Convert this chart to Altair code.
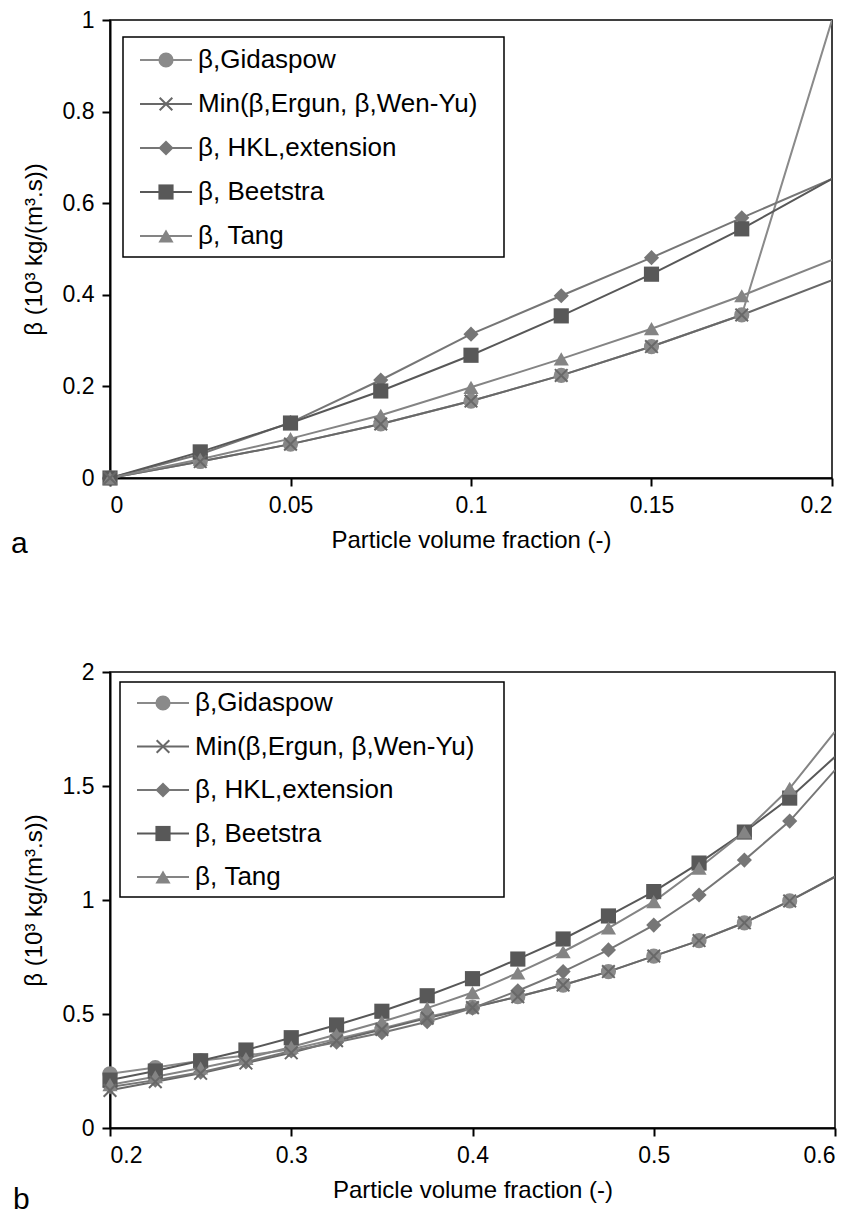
import altair as alt
import pandas as pd

# Drag-coefficient models compared over the particle volume fraction
SERIES = ["β,Gidaspow", "Min(β,Ergun, β,Wen-Yu)", "β, HKL,extension", "β, Beetstra", "β, Tang"]
COLORS = ["#8a8a8a", "#686868", "#767676", "#585858", "#848484"]
XPATH = "M-1,-1L1,1M-1,1L1,-1"
SHAPES = ["circle", XPATH, "diamond", "square", "triangle-up"]

# (a) dilute range
PHI_A = [0, 0.025, 0.05, 0.075, 0.1, 0.125, 0.15, 0.175, 0.2]
GIDASPOW_A = [0, 0.036, 0.074, 0.118, 0.168, 0.224, 0.287, 0.356, 1.0]
MIN_ERGUN_WENYU_A = [0, 0.036, 0.074, 0.118, 0.168, 0.224, 0.287, 0.356, 0.432]
HKL_A = [0, 0.052, 0.121, 0.214, 0.314, 0.398, 0.481, 0.568, 0.653]
BEETSTRA_A = [0, 0.057, 0.120, 0.190, 0.268, 0.354, 0.445, 0.544, 0.653]
TANG_A = [0, 0.041, 0.086, 0.137, 0.198, 0.260, 0.326, 0.398, 0.476]

# (b) dense range
PHI_B = [0.2, 0.225, 0.25, 0.275, 0.3, 0.325, 0.35, 0.375, 0.4,
         0.425, 0.45, 0.475, 0.5, 0.525, 0.55, 0.575, 0.6]
GIDASPOW_B = [0.238, 0.265, 0.295, 0.318, 0.345, 0.390, 0.437, 0.487, 0.530,
              0.576, 0.627, 0.686, 0.754, 0.822, 0.900, 0.996, 1.102]
MIN_ERGUN_WENYU_B = [0.165, 0.203, 0.240, 0.285, 0.330, 0.383, 0.432, 0.482, 0.528,
                     0.576, 0.627, 0.686, 0.754, 0.822, 0.900, 0.996, 1.102]
HKL_B = [0.180, 0.210, 0.245, 0.290, 0.338, 0.376, 0.418, 0.466, 0.526,
         0.602, 0.686, 0.781, 0.890, 1.022, 1.175, 1.346, 1.570]
BEETSTRA_B = [0.210, 0.250, 0.295, 0.342, 0.396, 0.452, 0.512, 0.580, 0.655,
              0.741, 0.829, 0.930, 1.037, 1.162, 1.298, 1.447, 1.628]
TANG_B = [0.190, 0.225, 0.263, 0.305, 0.355, 0.410, 0.466, 0.526, 0.594,
          0.680, 0.773, 0.877, 0.993, 1.140, 1.298, 1.490, 1.738]

FONT = "Liberation Sans"
MARK_SIZE = 230
X_SIZE = 160


def long_table(phi, columns):
    rows = []
    for name, vals in zip(SERIES, columns):
        for p, v in zip(phi, vals):
            rows.append({"phi": p, "beta": v, "series": name})
    return pd.DataFrame(rows)


def panel(df, xdom, ydom, xticks, yticks, xfmt, yfmt, w, h, box, rows, letter, letter_pos):
    color = alt.Color("series:N", scale=alt.Scale(domain=SERIES, range=COLORS), legend=None)
    shape = alt.Shape("series:N", scale=alt.Scale(domain=SERIES, range=SHAPES), legend=None)
    xs = alt.Scale(domain=xdom, nice=False, zero=False)
    ys = alt.Scale(domain=ydom, nice=False, zero=False)
    x = alt.X("phi:Q", scale=xs, axis=alt.Axis(
        values=xticks, format=xfmt, title="Particle volume fraction (-)",
        titleX=w / 2, titleY=62, titleBaseline="middle"))
    y_axis = alt.Y("beta:Q", scale=ys, axis=alt.Axis(
        values=yticks, format=yfmt, title="β (10³ kg/(m³.s))",
        titleX=-76, titleY=h / 2, titleAngle=-90, titleBaseline="middle"))
    y = alt.Y("beta:Q", scale=ys, axis=None)

    base = alt.Chart(df)
    lines = base.mark_line(clip=True, strokeWidth=2).encode(x=x, y=y_axis, color=color)
    marked = base.transform_filter(f"datum.phi < {xdom[1]} - 1e-9")
    pts = marked.transform_filter(f"datum.series != '{SERIES[1]}'").mark_point(
        filled=True, size=MARK_SIZE, opacity=1).encode(x=x, y=y, color=color, shape=shape)
    xs_pts = marked.transform_filter(f"datum.series == '{SERIES[1]}'").mark_point(
        shape=XPATH, filled=False, size=X_SIZE, strokeWidth=2, opacity=1).encode(x=x, y=y, color=color)

    # legend drawn as its own layer with a point scale for the rows
    leg = alt.Chart(pd.DataFrame({"series": SERIES}))
    ly = alt.Y("series:N", scale=alt.Scale(type="point", domain=SERIES, range=rows, padding=0), axis=None)
    one = alt.Chart(pd.DataFrame({"k": [0]}))
    frame = one.mark_rect(fill="white", stroke="black", strokeWidth=1.5).encode(
        x=alt.value(box[0]), x2=alt.value(box[1]), y=alt.value(box[2]), y2=alt.value(box[3]))
    leg_line = leg.mark_rule(strokeWidth=2).encode(
        x=alt.value(box[0] + 17), x2=alt.value(box[0] + 69), y=ly, color=color)
    leg_pts = leg.transform_filter(f"datum.series != '{SERIES[1]}'").mark_point(
        filled=True, size=MARK_SIZE, opacity=1).encode(x=alt.value(box[0] + 43), y=ly, color=color, shape=shape)
    leg_x = leg.transform_filter(f"datum.series == '{SERIES[1]}'").mark_point(
        shape=XPATH, filled=False, size=X_SIZE, strokeWidth=2, opacity=1).encode(
        x=alt.value(box[0] + 43), y=ly, color=color)
    leg_txt = leg.mark_text(align="left", baseline="middle", font=FONT, fontSize=26, color="black").encode(
        x=alt.value(box[0] + 75), y=ly, text="series:N")
    tag = one.mark_text(text=letter, align="left", baseline="middle", font=FONT, fontSize=30,
                        color="black").encode(x=alt.value(letter_pos[0]), y=alt.value(letter_pos[1]))

    return alt.layer(lines, pts, xs_pts, frame, leg_line, leg_pts, leg_x, leg_txt, tag).resolve_scale(
        y="independent").properties(width=w, height=h)


df_a = long_table(PHI_A, [GIDASPOW_A, MIN_ERGUN_WENYU_A, HKL_A, BEETSTRA_A, TANG_A])
df_b = long_table(PHI_B, [GIDASPOW_B, MIN_ERGUN_WENYU_B, HKL_B, BEETSTRA_B, TANG_B])

top = panel(df_a, [0, 0.2], [0, 1], [0, 0.05, 0.1, 0.15, 0.2], [0, 0.2, 0.4, 0.6, 0.8, 1],
            ".2~f", ".1~f", 722, 458, (13, 394, 17, 237), [40, 216], "a", (-99, 524))
bottom = panel(df_b, [0.2, 0.6], [0, 2], [0.2, 0.3, 0.4, 0.5, 0.6], [0, 0.5, 1, 1.5, 2],
               ".1~f", ".1~f", 725, 456, (10, 394, 10, 225), [31, 205], "b", (-97, 528))

chart = alt.vconcat(top, bottom, spacing=100).properties(
    padding={"left": 10, "top": 8, "right": 10, "bottom": 5},
    background="white"
).configure_view(
    stroke="black", strokeWidth=1.5
).configure_axis(
    grid=False, domainColor="black", domainWidth=2, tickColor="black", tickWidth=2, tickSize=8,
    labelFont=FONT, labelFontSize=23, labelColor="black", labelPadding=8,
    titleFont=FONT, titleFontSize=24, titleFontWeight="normal", titleColor="black"
)

chart.save("out.html", embed_options={"renderer": "svg", "actions": False})
